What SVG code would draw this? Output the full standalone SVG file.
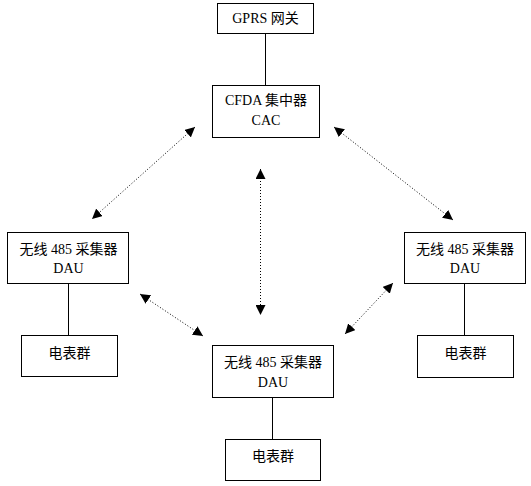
<svg xmlns="http://www.w3.org/2000/svg" width="531" height="486" viewBox="0 0 531 486">
<style>
.box{fill:#fff;stroke:#000;stroke-width:1}
.t{font-family:"Liberation Serif","Noto Sans CJK SC",serif;font-size:14px;fill:#000;text-anchor:middle}
.solid{stroke:#000;stroke-width:1;fill:none}
.dot{stroke:#000;stroke-width:1;fill:none;stroke-dasharray:1,2}
</style>
<defs>
<marker id="ah" viewBox="0 0 10 10" refX="10" refY="5" markerWidth="10" markerHeight="10" markerUnits="userSpaceOnUse" orient="auto-start-reverse">
<path d="M0,0 L10,5 L0,10 z" fill="#000"/>
</marker>
</defs>
<rect width="531" height="486" fill="#fff"/>
<g id="connectors">
<line class="solid" x1="265.5" y1="33" x2="265.5" y2="85"/>
<line class="solid" x1="68.5" y1="283" x2="68.5" y2="335"/>
<line class="solid" x1="464.5" y1="283" x2="464.5" y2="335"/>
<line class="solid" x1="272.5" y1="397" x2="272.5" y2="439"/>
<line class="dot" x1="195" y1="127" x2="92" y2="219" marker-start="url(#ah)" marker-end="url(#ah)"/>
<line class="dot" x1="334" y1="127" x2="453" y2="220" marker-start="url(#ah)" marker-end="url(#ah)"/>
<line class="dot" x1="260.5" y1="169" x2="260.5" y2="315" marker-start="url(#ah)" marker-end="url(#ah)"/>
<line class="dot" x1="140" y1="294" x2="203" y2="336" marker-start="url(#ah)" marker-end="url(#ah)"/>
<line class="dot" x1="393" y1="283" x2="345" y2="334" marker-start="url(#ah)" marker-end="url(#ah)"/>
</g>
<g id="gprs">
<rect class="box" x="217.5" y="3.5" width="96" height="30"/>
<text class="t" x="265.5" y="23">GPRS 网关</text>
</g>
<g id="cfda">
<rect class="box" x="212.5" y="85.5" width="107" height="52"/>
<text class="t" x="266" y="105">CFDA 集中器</text>
<text class="t" x="266" y="125">CAC</text>
</g>
<g id="dau-left">
<rect class="box" x="7.5" y="232.5" width="121" height="51"/>
<text class="t" x="68.5" y="254">无线 485 采集器</text>
<text class="t" x="68.5" y="273">DAU</text>
</g>
<g id="meter-left">
<rect class="box" x="21.5" y="335.5" width="96" height="41"/>
<text class="t" x="69.5" y="358">电表群</text>
</g>
<g id="dau-right">
<rect class="box" x="404.5" y="232.5" width="121" height="51"/>
<text class="t" x="465" y="254">无线 485 采集器</text>
<text class="t" x="465" y="273">DAU</text>
</g>
<g id="meter-right">
<rect class="box" x="417.5" y="335.5" width="96" height="42"/>
<text class="t" x="465.5" y="358">电表群</text>
</g>
<g id="dau-bottom">
<rect class="box" x="212.5" y="345.5" width="121" height="52"/>
<text class="t" x="273" y="367">无线 485 采集器</text>
<text class="t" x="273" y="387">DAU</text>
</g>
<g id="meter-bottom">
<rect class="box" x="225.5" y="439.5" width="95" height="41"/>
<text class="t" x="273" y="461">电表群</text>
</g>
</svg>
